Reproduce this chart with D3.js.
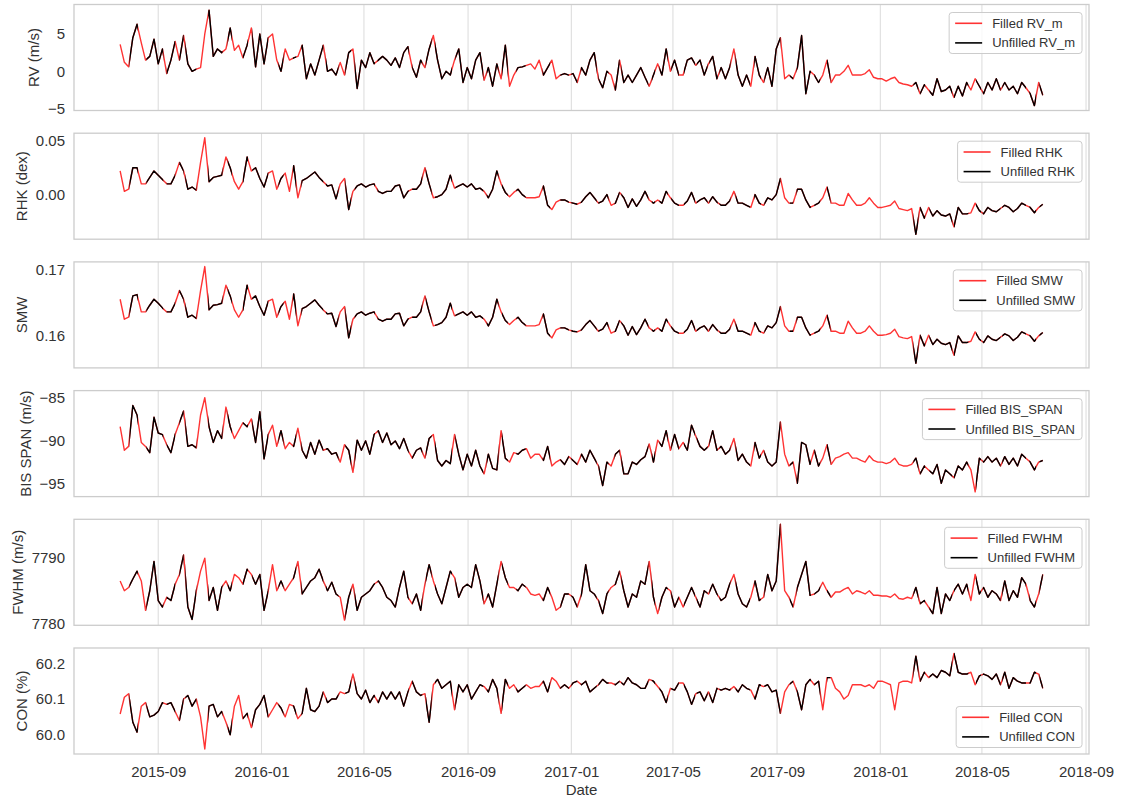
<!DOCTYPE html>
<html>
<head>
<meta charset="utf-8">
<script src="https://cdn.jsdelivr.net/npm/d3@7"></script>
<style>
  body { margin: 0; background: #ffffff; }
  svg { display: block; font-family: "Liberation Sans", Arial, "DejaVu Sans", sans-serif; }
</style>
</head>
<body>
<svg id="chart" width="1123" height="801"></svg>
<script>
// Gap-filled daily activity indicators, sampled every 5 days.
const startDate = "2015-07-18";
const stepDays = 5;

const rvValues = [
  3.6, 1.2, 0.6, 4.5, 6.3, 3.8, 1.5, 2.0, 4.3, 1.0,
  3.0, -0.3, 1.5, 4.0, 1.5, 4.8, 1.0, 0.0, 0.3, 0.5,
  5.0, 8.2, 2.0, 3.0, 2.5, 3.0, 5.8, 2.8, 3.5, 1.8,
  3.5, 5.8, 0.6, 5.0, 1.0, 4.5, 5.0, 1.5, 0.0, 3.0,
  1.5, 1.8, 2.0, 3.5, -1.0, 1.0, -0.5, 1.5, 3.5, 0.0,
  0.3, -0.5, 1.2, -0.5, 2.5, 3.0, -2.3, 1.5, 0.5, 2.5,
  1.0, 1.5, 2.0, 1.5, 0.8, 1.8, 0.5, 2.5, 3.3, 0.5,
  -0.8, 1.5, 0.5, 3.0, 4.8, 1.5, -1.0, 0.0, -0.5, 1.5,
  3.0, -1.5, 0.5, -1.0, 1.5, 2.5, -1.2, 0.5, -2.0, 1.0,
  -1.0, 3.5, -2.0, -0.5, 0.5, 0.6, 0.8, 1.0, 0.3, 1.5,
  -0.5, 0.5, 1.5, -1.0, -0.5, -0.3, -0.5, -0.3, -1.5, 0.5,
  -0.5, 1.5, 2.5, -1.0, -2.2, 0.0, -0.5, -2.5, 1.5, -1.5,
  -0.5, -1.5, -0.5, 0.5, -0.8, -2.0, -0.5, 1.0, -0.5, 3.0,
  0.0, 1.5, -0.5, -0.5, 1.5, 1.8, 0.8, 1.5, -0.5, 1.0,
  2.0, -1.0, 0.5, -1.0, 0.5, 3.0, -0.5, -2.0, -0.5, -2.0,
  2.0, -0.5, -1.5, 0.5, -2.0, 3.0, 4.5, -1.0, -0.5, -1.0,
  0.5, 4.8, -3.0, 0.0, -0.5, -1.5, -0.5, 1.5, -1.5, -0.5,
  -0.5, 0.0, 0.8, -0.5, -0.5, -0.5, -0.3, 0.2, -0.8, -1.0,
  -1.0, -1.3, -1.0, -0.8, -1.5, -1.7, -1.8, -2.0, -1.5, -3.0,
  -1.8, -2.5, -3.2, -1.0, -2.7, -2.5, -2.0, -3.5, -2.0, -3.3,
  -1.5, -2.5, -1.0, -2.0, -3.0, -1.5, -2.5, -1.0, -2.5, -1.5,
  -2.5, -2.0, -3.0, -1.5, -2.2, -3.0, -4.6, -1.5, -3.2
];

const rhkValues = [
  0.022, 0.003, 0.005, 0.025, 0.025, 0.010, 0.010, 0.016, 0.022, 0.018,
  0.014, 0.010, 0.010, 0.018, 0.030, 0.022, 0.005, 0.007, 0.004, 0.030,
  0.053, 0.012, 0.016, 0.017, 0.018, 0.035, 0.025, 0.012, 0.005, 0.012,
  0.035, 0.022, 0.025, 0.015, 0.007, 0.020, 0.022, 0.005, 0.015, 0.020,
  0.003, 0.027, -0.003, 0.013, 0.015, 0.018, 0.021, 0.016, 0.012, 0.008,
  0.009, -0.004, 0.010, 0.015, -0.014, 0.003, 0.008, 0.010, 0.007, 0.009,
  0.010, 0.003, 0.001, 0.003, 0.003, 0.008, 0.009, -0.003, 0.003, 0.005,
  0.005, 0.010, 0.025, 0.010, -0.003, -0.002, 0.000, 0.005, 0.018, 0.006,
  0.008, 0.010, 0.007, 0.010, 0.005, 0.006, 0.003, -0.003, 0.005, 0.022,
  0.010, 0.002, -0.002, 0.002, 0.005, 0.000, -0.003, -0.003, -0.003, -0.002,
  0.008, -0.010, -0.014, -0.007, -0.005, -0.005, -0.007, -0.008, -0.009, -0.007,
  -0.002, 0.002, -0.003, -0.008, -0.006, 0.000, -0.010, -0.008, 0.002, -0.003,
  -0.012, -0.004, -0.011, -0.005, 0.003, -0.005, -0.008, -0.005, -0.008, 0.003,
  -0.003, -0.008, -0.010, -0.010, -0.006, 0.002, -0.008, -0.005, -0.003, -0.008,
  -0.002, -0.007, -0.010, -0.010, -0.006, 0.003, -0.008, -0.008, -0.010, -0.012,
  0.000, -0.008, -0.010, -0.003, -0.005, 0.000, 0.015, -0.003, -0.008, -0.008,
  0.005, 0.005, -0.005, -0.012, -0.010, -0.008, -0.003, 0.007, -0.008, -0.008,
  -0.010, -0.010, 0.001, -0.005, -0.010, -0.010, -0.008, -0.003, -0.008, -0.012,
  -0.012, -0.011, -0.010, -0.006, -0.013, -0.014, -0.015, -0.013, -0.037, -0.012,
  -0.022, -0.012, -0.020, -0.015, -0.019, -0.020, -0.018, -0.030, -0.012, -0.018,
  -0.018, -0.017, -0.008, -0.015, -0.018, -0.012, -0.015, -0.016, -0.013, -0.010,
  -0.012, -0.016, -0.013, -0.008, -0.010, -0.012, -0.017, -0.012, -0.009
];

const smwValues = [
  0.1655, 0.1625, 0.1628, 0.1660, 0.1662, 0.1636, 0.1636, 0.1646, 0.1655, 0.1649,
  0.1642, 0.1636, 0.1636, 0.1649, 0.1668, 0.1655, 0.1628, 0.1631, 0.1626, 0.1668,
  0.1704, 0.1639, 0.1646, 0.1647, 0.1649, 0.1676, 0.1660, 0.1639, 0.1628, 0.1639,
  0.1676, 0.1655, 0.1660, 0.1644, 0.1631, 0.1652, 0.1655, 0.1628, 0.1644, 0.1652,
  0.1625, 0.1663, 0.1615, 0.1641, 0.1644, 0.1649, 0.1654, 0.1646, 0.1639, 0.1633,
  0.1634, 0.1614, 0.1636, 0.1644, 0.1597, 0.1625, 0.1633, 0.1636, 0.1631, 0.1634,
  0.1636, 0.1625, 0.1622, 0.1625, 0.1625, 0.1633, 0.1634, 0.1615, 0.1625, 0.1628,
  0.1628, 0.1636, 0.1660, 0.1636, 0.1615, 0.1617, 0.1620, 0.1628, 0.1649, 0.1630,
  0.1633, 0.1636, 0.1631, 0.1636, 0.1628, 0.1630, 0.1625, 0.1615, 0.1628, 0.1655,
  0.1636, 0.1623, 0.1617, 0.1623, 0.1628, 0.1620, 0.1615, 0.1615, 0.1615, 0.1617,
  0.1633, 0.1604, 0.1597, 0.1609, 0.1612, 0.1612, 0.1609, 0.1607, 0.1606, 0.1609,
  0.1617, 0.1623, 0.1615, 0.1607, 0.1610, 0.1620, 0.1604, 0.1607, 0.1623, 0.1615,
  0.1601, 0.1614, 0.1602, 0.1612, 0.1625, 0.1612, 0.1607, 0.1612, 0.1607, 0.1625,
  0.1615, 0.1607, 0.1604, 0.1604, 0.1610, 0.1623, 0.1607, 0.1612, 0.1615, 0.1607,
  0.1617, 0.1609, 0.1604, 0.1604, 0.1610, 0.1625, 0.1607, 0.1607, 0.1604, 0.1601,
  0.1620, 0.1607, 0.1604, 0.1615, 0.1612, 0.1620, 0.1644, 0.1615, 0.1607, 0.1607,
  0.1628, 0.1628, 0.1612, 0.1601, 0.1604, 0.1607, 0.1615, 0.1631, 0.1607, 0.1607,
  0.1604, 0.1604, 0.1622, 0.1612, 0.1604, 0.1604, 0.1607, 0.1615, 0.1607, 0.1601,
  0.1601, 0.1602, 0.1604, 0.1610, 0.1599, 0.1597, 0.1596, 0.1599, 0.1559, 0.1601,
  0.1585, 0.1601, 0.1587, 0.1595, 0.1589, 0.1587, 0.1590, 0.1571, 0.1600, 0.1590,
  0.1590, 0.1592, 0.1606, 0.1595, 0.1590, 0.1600, 0.1595, 0.1593, 0.1598, 0.1603,
  0.1600, 0.1593, 0.1598, 0.1606, 0.1603, 0.1600, 0.1592, 0.1600, 0.1605
];

const bisValues = [
  -88.36, -91.10, -90.65, -85.89, -86.99, -90.19, -90.65, -91.38, -87.26, -89.09,
  -89.27, -90.46, -91.38, -89.27, -87.90, -86.53, -90.65, -90.46, -90.83, -86.99,
  -84.98, -88.36, -90.19, -88.82, -89.73, -86.07, -88.36, -89.73, -88.82, -87.90,
  -88.36, -87.45, -90.19, -86.62, -92.11, -89.27, -88.18, -90.65, -88.82, -90.92,
  -90.19, -90.65, -88.54, -91.10, -92.02, -90.19, -91.56, -89.92, -91.10, -90.92,
  -91.56, -91.38, -92.48, -90.46, -91.10, -93.67, -89.92, -91.10, -90.01, -91.56,
  -89.27, -88.82, -90.19, -89.09, -90.46, -90.01, -90.92, -89.73, -91.10, -92.02,
  -91.10, -90.83, -92.02, -89.73, -89.27, -92.29, -92.93, -92.29, -92.66, -89.27,
  -91.56, -93.39, -91.56, -92.93, -91.10, -92.93, -93.85, -91.56, -93.21, -93.39,
  -88.82, -92.02, -92.48, -91.38, -91.56, -91.10, -90.92, -92.02, -91.56, -91.56,
  -92.29, -90.65, -92.93, -92.48, -92.20, -92.75, -91.84, -92.29, -92.75, -91.56,
  -92.48, -91.10, -92.02, -92.93, -95.22, -92.48, -92.93, -91.56, -91.10, -93.85,
  -93.85, -92.48, -92.75, -92.20, -91.84, -90.37, -92.48, -89.92, -90.65, -88.82,
  -91.10, -89.27, -90.92, -90.19, -91.10, -88.18, -89.46, -90.65, -91.10, -90.65,
  -88.82, -91.10, -90.65, -91.56, -91.10, -89.73, -92.29, -91.56, -92.48, -92.93,
  -90.19, -92.02, -91.10, -92.48, -92.93, -92.48, -87.81, -91.56, -92.93, -92.48,
  -94.95, -90.19, -90.46, -92.75, -91.10, -92.93, -92.02, -90.46, -92.75, -92.02,
  -91.84, -91.56, -91.38, -92.02, -92.02, -92.29, -92.48, -91.74, -92.29, -92.48,
  -92.48, -92.66, -92.48, -92.02, -92.75, -92.93, -92.93, -92.75, -92.02, -93.85,
  -92.93, -93.39, -93.85, -92.75, -94.95, -93.39, -93.85, -94.31, -92.93, -93.39,
  -92.48, -93.39, -95.95, -92.02, -92.48, -91.84, -92.48, -92.02, -92.93, -91.84,
  -92.75, -92.02, -92.93, -91.56, -92.02, -92.48, -93.39, -92.48, -92.29
];

const fwhmValues = [
  7786.5, 7785.0, 7785.5, 7786.8, 7788.0, 7786.5, 7782.0, 7785.0, 7789.5, 7783.5,
  7782.5, 7784.0, 7783.5, 7786.0, 7787.5, 7790.5, 7782.5, 7780.6, 7785.0, 7788.0,
  7790.0, 7783.5, 7785.5, 7782.0, 7785.5, 7786.5, 7785.0, 7787.5, 7787.0, 7786.0,
  7788.3, 7787.5, 7786.0, 7787.5, 7782.0, 7785.0, 7789.0, 7785.0, 7786.5, 7785.0,
  7786.0, 7787.0, 7789.5, 7784.5, 7785.5, 7786.5, 7787.0, 7788.3, 7786.5, 7785.0,
  7786.3, 7784.5, 7784.0, 7780.5, 7784.0, 7786.0, 7782.0, 7784.0, 7784.5, 7785.0,
  7786.0, 7786.5, 7785.5, 7784.0, 7783.5, 7782.5, 7785.5, 7788.0, 7784.0, 7783.0,
  7784.5, 7782.0, 7786.0, 7789.0, 7786.5, 7784.5, 7783.0, 7785.5, 7788.0, 7787.0,
  7784.0, 7785.5, 7786.0, 7785.5, 7789.0, 7786.5, 7783.0, 7784.5, 7782.5, 7786.0,
  7789.5, 7787.0, 7785.5, 7785.5, 7785.0, 7786.0, 7785.5, 7784.5, 7784.3, 7784.5,
  7783.5, 7785.5, 7784.0, 7782.0, 7782.5, 7784.5, 7784.5, 7784.0, 7782.5, 7784.5,
  7789.0, 7785.0, 7784.5, 7783.5, 7781.5, 7784.5, 7785.5, 7786.0, 7788.0, 7785.0,
  7782.5, 7784.5, 7784.0, 7786.5, 7786.0, 7789.5, 7784.0, 7781.5, 7784.0, 7785.5,
  7785.0, 7782.5, 7784.0, 7782.5, 7784.0, 7785.5, 7784.0, 7782.5, 7785.0, 7784.5,
  7786.0, 7784.5, 7783.5, 7784.0, 7786.0, 7787.5, 7784.5, 7783.0, 7782.5, 7784.0,
  7786.5, 7783.5, 7784.0, 7787.5, 7785.0, 7786.5, 7795.2, 7785.0, 7784.0, 7782.5,
  7785.5, 7787.5, 7789.5, 7784.3, 7784.5, 7785.0, 7786.3, 7785.0, 7784.0, 7784.8,
  7784.8, 7785.2, 7785.5, 7784.5, 7785.0, 7784.8, 7784.5, 7785.0, 7784.3, 7784.3,
  7784.2, 7784.2, 7784.0, 7784.5, 7783.8, 7783.7, 7784.0, 7783.8, 7785.5, 7783.0,
  7783.5, 7782.5, 7781.5, 7785.5, 7781.5, 7784.5, 7783.5, 7785.0, 7786.0, 7784.5,
  7786.0, 7783.5, 7787.5, 7784.5, 7785.5, 7784.0, 7785.0, 7784.5, 7783.5, 7786.5,
  7783.5, 7785.0, 7784.0, 7787.0, 7786.0, 7783.5, 7782.5, 7784.5, 7787.5
];

const conValues = [
  60.058, 60.105, 60.115, 60.035, 60.007, 60.080, 60.090, 60.050, 60.055, 60.065,
  60.090, 60.085, 60.090, 60.065, 60.040, 60.100, 60.110, 60.080, 60.100, 60.050,
  59.960, 60.080, 60.085, 60.050, 60.065, 60.035, 60.000, 60.080, 60.110, 60.045,
  60.060, 60.020, 60.070, 60.085, 60.110, 60.050, 60.070, 60.090, 60.075, 60.050,
  60.085, 60.080, 60.045, 60.060, 60.130, 60.070, 60.065, 60.080, 60.120, 60.090,
  60.100, 60.100, 60.120, 60.115, 60.120, 60.170, 60.115, 60.100, 60.125, 60.090,
  60.110, 60.090, 60.120, 60.100, 60.120, 60.100, 60.120, 60.080, 60.120, 60.150,
  60.120, 60.110, 60.115, 60.035, 60.140, 60.155, 60.130, 60.140, 60.150, 60.070,
  60.140, 60.120, 60.140, 60.100, 60.120, 60.140, 60.135, 60.120, 60.155, 60.130,
  60.060, 60.155, 60.130, 60.140, 60.120, 60.130, 60.140, 60.130, 60.135, 60.135,
  60.150, 60.120, 60.160, 60.150, 60.130, 60.140, 60.130, 60.145, 60.150, 60.140,
  60.150, 60.120, 60.130, 60.140, 60.155, 60.145, 60.145, 60.140, 60.150, 60.140,
  60.160, 60.145, 60.140, 60.130, 60.130, 60.155, 60.150, 60.135, 60.120, 60.090,
  60.130, 60.125, 60.145, 60.145, 60.120, 60.085, 60.115, 60.120, 60.095, 60.120,
  60.090, 60.130, 60.125, 60.130, 60.125, 60.135, 60.120, 60.140, 60.130, 60.125,
  60.100, 60.140, 60.135, 60.140, 60.120, 60.125, 60.060, 60.120, 60.140, 60.150,
  60.120, 60.070, 60.140, 60.155, 60.140, 60.150, 60.070, 60.160, 60.160, 60.130,
  60.120, 60.100, 60.110, 60.140, 60.140, 60.140, 60.135, 60.140, 60.130, 60.150,
  60.150, 60.145, 60.140, 60.070, 60.145, 60.150, 60.150, 60.145, 60.220, 60.150,
  60.175, 60.160, 60.170, 60.160, 60.180, 60.175, 60.165, 60.228, 60.175, 60.170,
  60.170, 60.175, 60.140, 60.165, 60.170, 60.165, 60.155, 60.170, 60.140, 60.175,
  60.130, 60.160, 60.150, 60.145, 60.145, 60.145, 60.175, 60.170, 60.130
];

// Periods with real observations (drawn as the unfilled series).
const observedWindows = [
  ["2015-07-29", "2015-08-08"], ["2015-08-18", "2015-09-07"], ["2015-09-11", "2015-09-21"],
  ["2015-09-26", "2015-10-01"], ["2015-10-03", "2015-10-16"], ["2015-10-30", "2015-11-16"],
  ["2015-11-22", "2015-11-27"], ["2015-12-10", "2015-12-16"], ["2015-12-21", "2016-01-09"],
  ["2016-01-21", "2016-01-27"], ["2016-02-07", "2016-02-11"], ["2016-02-17", "2016-03-14"],
  ["2016-03-17", "2016-04-01"], ["2016-04-09", "2016-04-16"], ["2016-04-20", "2016-05-14"],
  ["2016-05-17", "2016-06-23"], ["2016-06-27", "2016-07-09"], ["2016-07-13", "2016-07-20"],
  ["2016-07-24", "2016-08-13"], ["2016-08-17", "2016-09-19"], ["2016-09-23", "2016-10-07"],
  ["2016-10-11", "2016-10-18"], ["2016-10-28", "2016-11-08"], ["2016-11-28", "2016-12-07"],
  ["2016-12-19", "2016-12-29"], ["2017-01-01", "2017-01-08"], ["2017-01-12", "2017-01-31"],
  ["2017-02-02", "2017-02-14"], ["2017-02-21", "2017-02-27"], ["2017-03-01", "2017-04-02"],
  ["2017-04-06", "2017-04-10"], ["2017-04-15", "2017-04-25"], ["2017-04-29", "2017-05-08"],
  ["2017-05-14", "2017-05-27"], ["2017-05-29", "2017-06-11"], ["2017-06-13", "2017-06-23"],
  ["2017-06-25", "2017-07-08"], ["2017-07-14", "2017-07-31"], ["2017-08-05", "2017-08-13"],
  ["2017-08-17", "2017-09-05"], ["2017-09-16", "2017-09-20"], ["2017-09-24", "2017-10-11"],
  ["2017-10-15", "2017-10-22"], ["2017-10-30", "2017-11-03"], ["2018-02-09", "2018-02-15"],
  ["2018-02-17", "2018-02-23"], ["2018-02-28", "2018-03-27"], ["2018-03-29", "2018-04-15"],
  ["2018-04-24", "2018-04-30"], ["2018-05-02", "2018-05-23"], ["2018-05-25", "2018-06-22"],
  ["2018-06-26", "2018-07-04"], ["2018-07-08", "2018-07-12"]
];

const seriesNames = ["RV_m", "RHK", "SMW", "BIS_SPAN", "FWHM", "CON"];
const axisLabels = ["RV (m/s)", "RHK (dex)", "SMW", "BIS SPAN (m/s)", "FWHM (m/s)", "CON (%)"];
const yDomains = [[-5.25, 8.95], [-0.0416, 0.0572], [0.1552, 0.1711], [-96.5, -84.15], [7779.7, 7795.95], [59.946, 60.243]];
const yTickValues = [[-5, 0, 5], [0.0, 0.05], [0.16, 0.17], [-95, -90, -85], [7780, 7790], [60.0, 60.1, 60.2]];
const yTickDecimals = [0, 2, 2, 0, 0, 1];
const xTickFormat = "%Y-%m";
const xLabel = "Date";

// ---- layout ----
const plotLeft = 74, plotRight = 1089;
const panelTop0 = 4.5, panelPitch = 128.7, panelH = 106;
const gridColor = "#dedede", spineColor = "#cccccc", textColor = "#333333";
const tickFont = 15, labelFont = 15, legendFont = 13;
const lineWidth = 1.4;

const valueSets = [rvValues, rhkValues, smwValues, bisValues, fwhmValues, conValues];
const parseDay = d3.utcParse("%Y-%m-%d");
const t0 = parseDay(startDate);
const dates = rvValues.map((_, i) => d3.utcDay.offset(t0, i * stepDays));

const [dMin, dMax] = d3.extent(dates);
const span = dMax - dMin;
const x = d3.scaleUtc()
  .domain([new Date(+dMin - 0.05 * span), new Date(+dMax + 0.05 * span)])
  .range([plotLeft, plotRight]);
const monthTicks = x.ticks(d3.utcMonth.every(4));

const svg = d3.select("#chart");
const defs = svg.append("defs");
const minus = s => s.replace(/^-/, "\u2212");

seriesNames.forEach((name, k) => {
  const top = panelTop0 + k * panelPitch;
  const bottom = top + panelH;
  const values = valueSets[k];
  const y = d3.scaleLinear().domain(yDomains[k]).range([bottom, top]);
  const g = svg.append("g").attr("class", "panel");

  // vertical grid
  g.append("g").selectAll("line").data(monthTicks).join("line")
    .attr("x1", d => x(d)).attr("x2", d => x(d))
    .attr("y1", top).attr("y2", bottom)
    .attr("stroke", gridColor).attr("stroke-width", 1.1);

  // clip to axes area
  const areaId = "area" + k;
  defs.append("clipPath").attr("id", areaId)
    .append("rect").attr("x", plotLeft).attr("y", top)
    .attr("width", plotRight - plotLeft).attr("height", panelH);

  // clip to observed windows
  const obsId = "obs" + k;
  defs.append("clipPath").attr("id", obsId)
    .selectAll("rect").data(observedWindows).join("rect")
    .attr("x", d => x(parseDay(d[0])))
    .attr("width", d => Math.max(0, x(parseDay(d[1])) - x(parseDay(d[0]))))
    .attr("y", top).attr("height", panelH);

  const line = d3.line()
    .x((d, i) => x(dates[i]))
    .y(d => y(d));

  const lines = g.append("g").attr("clip-path", `url(#${areaId})`);
  lines.append("path").datum(values)
    .attr("d", line).attr("fill", "none")
    .attr("stroke", "#ff0000").attr("stroke-opacity", 0.8)
    .attr("stroke-width", lineWidth).attr("stroke-linejoin", "round");
  lines.append("g").attr("clip-path", `url(#${obsId})`)
    .append("path").datum(values)
    .attr("d", line).attr("fill", "none")
    .attr("stroke", "#000000")
    .attr("stroke-width", lineWidth).attr("stroke-linejoin", "round");

  // spines
  g.append("rect")
    .attr("x", plotLeft).attr("y", top)
    .attr("width", plotRight - plotLeft).attr("height", panelH)
    .attr("fill", "none").attr("stroke", spineColor).attr("stroke-width", 1.3);

  // y axis
  const fmt = d3.format("." + yTickDecimals[k] + "f");
  const yAxis = g.append("g")
    .attr("transform", `translate(${plotLeft},0)`)
    .call(d3.axisLeft(y).tickValues(yTickValues[k]).tickSize(0).tickPadding(9)
      .tickFormat(v => minus(fmt(v))));
  yAxis.select(".domain").remove();
  yAxis.selectAll("text")
    .attr("font-size", tickFont).attr("fill", textColor)
    .attr("font-family", "Liberation Sans, Arial, sans-serif");
  const yb = yAxis.node().getBBox();
  g.append("text")
    .attr("transform", `translate(${plotLeft + yb.x - 8.5},${(top + bottom) / 2}) rotate(-90)`)
    .attr("text-anchor", "middle")
    .attr("font-size", labelFont).attr("fill", textColor)
    .text(axisLabels[k]);

  // legend
  const lg = g.append("g");
  const box = lg.append("rect")
    .attr("fill", "#ffffff").attr("fill-opacity", 0.8)
    .attr("stroke", spineColor).attr("stroke-width", 1).attr("rx", 3);
  const entries = [["Filled " + name, "#ff0000", 0.8], ["Unfilled " + name, "#000000", 1]];
  let maxW = 0;
  entries.forEach((e, j) => {
    const cy = 10.8 + j * 19.6;
    lg.append("line").attr("x1", 6).attr("x2", 33).attr("y1", cy).attr("y2", cy)
      .attr("stroke", e[1]).attr("stroke-opacity", e[2]).attr("stroke-width", 1.6);
    const t = lg.append("text").attr("x", 43).attr("y", cy).attr("dy", "0.35em")
      .attr("font-size", legendFont).attr("fill", textColor).text(e[0]);
    maxW = Math.max(maxW, t.node().getComputedTextLength());
  });
  const bw = 43 + maxW + 7, bh = 41;
  box.attr("x", 0).attr("y", 0).attr("width", bw).attr("height", bh);
  const lx = plotRight - 7 - bw;
  const ly = (k === seriesNames.length - 1) ? bottom - 6.5 - bh : top + 8;
  lg.attr("transform", `translate(${lx},${ly})`);

  // x axis labels only on the bottom panel
  if (k === seriesNames.length - 1) {
    const xAxis = g.append("g")
      .attr("transform", `translate(0,${bottom})`)
      .call(d3.axisBottom(x).tickValues(monthTicks).tickSize(0).tickPadding(12)
        .tickFormat(d3.utcFormat(xTickFormat)));
    xAxis.select(".domain").remove();
    xAxis.selectAll("text")
      .attr("font-size", tickFont).attr("fill", textColor)
      .attr("font-family", "Liberation Sans, Arial, sans-serif");
    g.append("text")
      .attr("x", (plotLeft + plotRight) / 2).attr("y", 795)
      .attr("text-anchor", "middle")
      .attr("font-size", labelFont).attr("fill", textColor)
      .text(xLabel);
  }
});
</script>
</body>
</html>
